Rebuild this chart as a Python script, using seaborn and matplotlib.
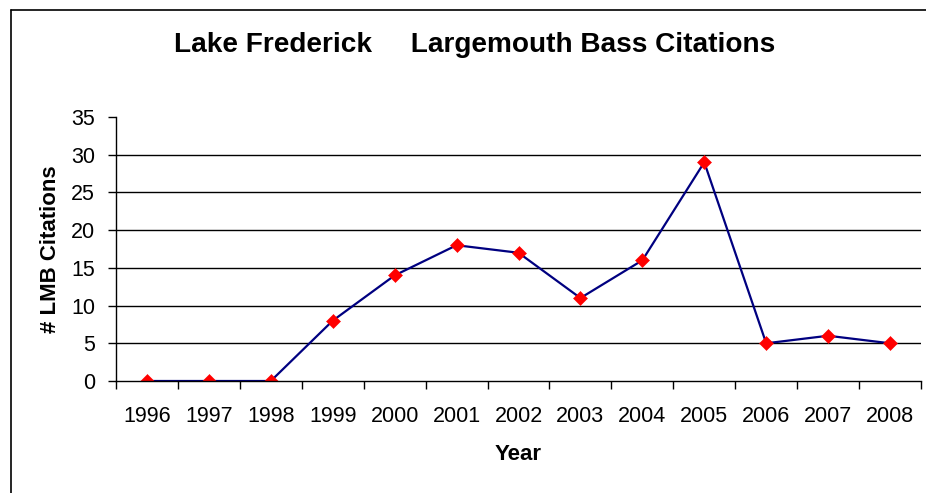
import matplotlib
matplotlib.use("Agg")
import matplotlib.pyplot as plt
import seaborn as sns
import pandas as pd
from matplotlib.lines import Line2D

years = ["1996", "1997", "1998", "1999", "2000", "2001", "2002",
         "2003", "2004", "2005", "2006", "2007", "2008"]
citations = [0, 0, 0, 8, 14, 18, 17, 11, 16, 29, 5, 6, 5]
y_ticks = [0, 5, 10, 15, 20, 25, 30, 35]

title = "Lake Frederick     Largemouth Bass Citations"
x_label = "Year"
y_label = "# LMB Citations"

sns.set_style("white")
plt.rcParams["font.family"] = ["Liberation Sans", "DejaVu Sans"]
plt.rcParams["text.color"] = "#000000"
plt.rcParams["axes.labelcolor"] = "#000000"
plt.rcParams["xtick.color"] = "#000000"
plt.rcParams["ytick.color"] = "#000000"

W, H = 926, 493
fig = plt.figure(figsize=(W / 100, H / 100), dpi=100)
ax = fig.add_axes([116 / W, 1 - 381 / H, (921 - 116) / W, (381 - 117) / H])

df = pd.DataFrame({"pos": list(range(len(years))), "value": citations})
sns.lineplot(data=df, x="pos", y="value", ax=ax, color="#000080",
             linewidth=1.6, marker="D", markersize=7.2,
             markerfacecolor="#FF0000", markeredgecolor="#FF0000",
             markeredgewidth=0.4)

ax.set_xlim(-0.5, len(years) - 0.5)
ax.set_ylim(y_ticks[0], y_ticks[-1])
ax.set_yticks(y_ticks)
ax.set_yticklabels([str(t) for t in y_ticks], fontsize=15.5)

# category boundaries as major ticks, labels on minor ticks
ax.set_xticks([i - 0.5 for i in range(len(years) + 1)])
ax.set_xticklabels([])
ax.set_xticks(list(range(len(years))), minor=True)
ax.set_xticklabels(years, minor=True, fontsize=15.5)
ax.tick_params(axis="x", which="major", direction="out", length=6,
               width=1, color="#000000", bottom=True)
ax.tick_params(axis="x", which="minor", length=0, pad=18)
ax.tick_params(axis="y", direction="out", length=6, width=1,
               color="#000000", left=True, pad=9)

ax.grid(axis="y", color="#000000", linewidth=1)
ax.grid(axis="x", visible=False)
ax.set_axisbelow(True)
ax.get_ygridlines()[-1].set_visible(False)
ax.get_ygridlines()[0].set_visible(False)

for s in ["top", "right"]:
    ax.spines[s].set_visible(False)
for s in ["left", "bottom"]:
    ax.spines[s].set_color("#000000")
    ax.spines[s].set_linewidth(1)

ax.set_xlabel(x_label, fontsize=16, fontweight="bold", labelpad=12)
ax.set_ylabel(y_label, fontsize=16, fontweight="bold", labelpad=7)

fig.text(474.5 / W, 1 - 45 / H, title, ha="center", va="center",
         fontsize=20.2, fontweight="bold")

# chart-area frame (left and top edges visible)
fig.add_artist(Line2D([10.5 / W, 10.5 / W], [0, 1 - 9.5 / H],
                      transform=fig.transFigure, color="#000000", linewidth=1.2))
fig.add_artist(Line2D([10.5 / W, 1], [1 - 9.5 / H, 1 - 9.5 / H],
                      transform=fig.transFigure, color="#000000", linewidth=1.2))

fig.savefig("out.png", dpi=100)
